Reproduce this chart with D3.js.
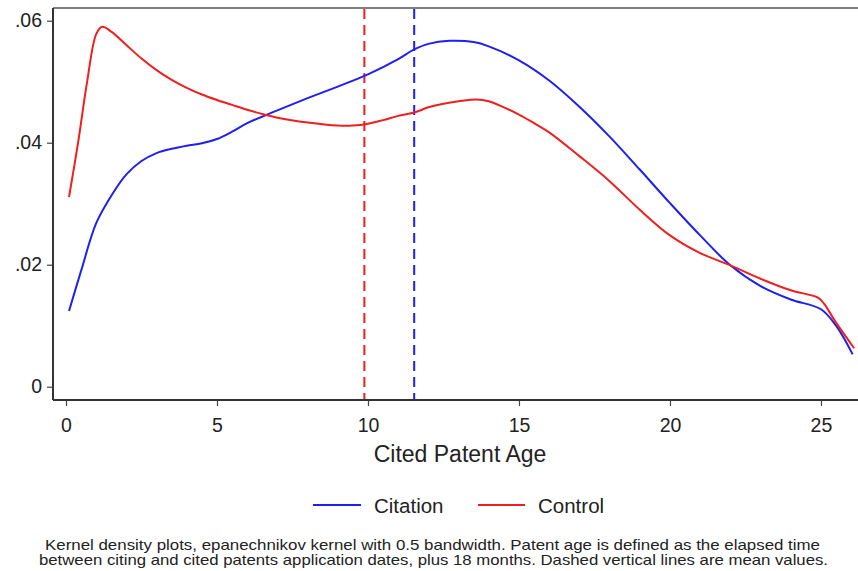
<!DOCTYPE html>
<html><head><meta charset="utf-8">
<script src="https://cdn.jsdelivr.net/npm/d3@7"></script>
<style>body{margin:0;background:#fff}svg{display:block;font-family:"Liberation Sans",Arial,sans-serif}</style>
</head><body><svg id="c" width="858" height="571"></svg>
<script>
const citationAge = [0.1,0.5,1.0,1.5,2,2.5,3,3.5,4,4.5,5,5.5,6,7,8,9,10,11,11.5,12,12.7,13.5,14,15,16,17,18,19,20,21,22,23,24,25,25.5,26.05];
const citationDensity = [.0124,.019,.0268,.0313,.0348,.0370,.0383,.0390,.0395,.0399,.0406,.0418,.0432,.0453,.0473,.0492,.0512,.0537,.0552,.0562,.0567,.0565,.0558,.0535,.0502,.0459,.0410,.0356,.0301,.0248,.0199,.0165,.0143,.0127,.0100,.0053];
const controlAge = [0.1,0.4,0.7,1.0,1.2,1.5,2,2.5,3,3.5,4,4.5,5,5.5,6,6.5,7,8,9,9.5,10,10.5,11,11.5,12,12.5,13,13.6,14,14.5,15,15.5,16,17,18,19,20,21,22,23,24,24.9,25.1,25.5,26.1];
const controlDensity = [.0311,.040,.050,.0578,.059,.0582,.0560,.0538,.0519,.0503,.0490,.0479,.0470,.0462,.0454,.0447,.0441,.0433,.0428,.0428,.0431,.0437,.0444,.0449,.0458,.0464,.0468,.0471,.0468,.0458,.0446,.0432,.0417,.0378,.0337,.0290,.0248,.0219,.0199,.0177,.0158,.0146,.0136,.0105,.0063];
const meanCitation = 11.53, meanControl = 9.88;
const xTicks = [0,5,10,15,20,25];
const yTicks = [0,.02,.04,.06];
const yTickLabels = ["0",".02",".04",".06"];
const seriesNames = ["Citation","Control"];
const seriesColors = ["#1f1fef","#ef1f1f"];
const noteLines = ["Kernel density plots, epanechnikov kernel with 0.5 bandwidth. Patent age is defined as the elapsed time",
  "between citing and cited patents application dates, plus 18 months. Dashed vertical lines are mean values."];

(function(){
const svg = d3.select("#c");
const pL = 53, pR = 858, pT = 8, pB = 400;
const x = d3.scaleLinear().domain([0,26.2]).range([66, 857.2]);
const y = d3.scaleLinear().domain([0,.06]).range([386.7, 20.7]);

svg.append("line").attr("x1",pL).attr("x2",pR).attr("y1",pT).attr("y2",pT).attr("stroke","#555").attr("stroke-width",1.5);

const xa = svg.append("g").attr("transform",`translate(0,${pB})`)
  .call(d3.axisBottom(x).tickValues(xTicks).tickSize(6).tickPadding(12).tickFormat(d3.format("d")));
const ya = svg.append("g").attr("transform",`translate(${pL},0)`)
  .call(d3.axisLeft(y).tickValues(yTicks).tickSize(6).tickPadding(5).tickFormat((d,i)=>yTickLabels[i]));
[xa,ya].forEach(g=>{
  g.select(".domain").remove();
  g.selectAll(".tick line").attr("stroke","#444").attr("stroke-width",1.2);
  g.selectAll(".tick text").attr("fill","#222").style("font-size","19.5px");
});
svg.append("line").attr("x1",pL).attr("x2",pR).attr("y1",pB).attr("y2",pB).attr("stroke","#333").attr("stroke-width",2);
svg.append("line").attr("x1",pL).attr("x2",pL).attr("y1",pT).attr("y2",pB).attr("stroke","#333").attr("stroke-width",2);

[[meanControl,seriesColors[1]],[meanCitation,seriesColors[0]]].forEach(([m,c])=>{
  svg.append("line").attr("x1",x(m)).attr("x2",x(m)).attr("y1",pT+1).attr("y2",pB-1)
    .attr("stroke",c).attr("stroke-width",2).attr("stroke-dasharray","10,6");
});

const line = d3.line().x(d=>x(d[0])).y(d=>y(d[1])).curve(d3.curveCatmullRom.alpha(0.5));
const data = [citationAge.map((a,i)=>[a,citationDensity[i]]), controlAge.map((a,i)=>[a,controlDensity[i]])];
data.forEach((d,i)=>{
  svg.append("path").datum(d).attr("d",line).attr("fill","none").attr("stroke",seriesColors[i]).attr("stroke-width",2);
});

svg.append("text").attr("x",460).attr("y",462).attr("text-anchor","middle").style("font-size","23px").attr("fill","#222").text("Cited Patent Age");

const lg = [[313,361,374],[478,525,538]];
lg.forEach(([a,b,t],i)=>{
  svg.append("line").attr("x1",a).attr("x2",b).attr("y1",505).attr("y2",505).attr("stroke",seriesColors[i]).attr("stroke-width",2);
  svg.append("text").attr("x",t).attr("y",513).style("font-size","20.5px").attr("fill","#222").text(seriesNames[i]);
});

[[45,550,775],[39,565,789]].forEach(([tx,ty,len],i)=>{
  svg.append("text").attr("x",tx).attr("y",ty).attr("textLength",len).attr("lengthAdjust","spacingAndGlyphs")
    .style("font-size","14.5px").attr("fill","#222").text(noteLines[i]);
});
})();
</script></body></html>
